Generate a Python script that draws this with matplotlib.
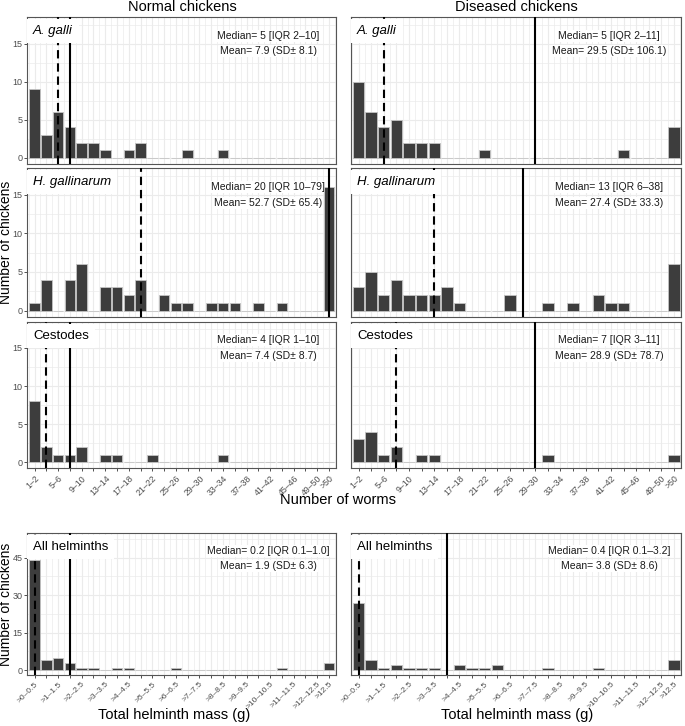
import math
import matplotlib
matplotlib.use("Agg")
import matplotlib.pyplot as plt
from matplotlib.ticker import FixedLocator

plt.rcParams['font.family'] = ['Liberation Sans', 'DejaVu Sans']
plt.rcParams['lines.scale_dashes'] = False

# ---------------- data ----------------
worm_labels = ["1–2", "3–4", "5–6", "7–8", "9–10", "11–12", "13–14", "15–16", "17–18",
               "19–20", "21–22", "23–24", "25–26", "27–28", "29–30", "31–32", "33–34",
               "35–36", "37–38", "39–40", "41–42", "43–44", "45–46", "47–48", "49–50", ">50"]
mass_labels = [">0–0.5", ">0.5–1", ">1–1.5", ">1.5–2", ">2–2.5", ">2.5–3", ">3–3.5",
               ">3.5–4", ">4–4.5", ">4.5–5", ">5–5.5", ">5.5–6", ">6–6.5", ">6.5–7",
               ">7–7.5", ">7.5–8", ">8–8.5", ">8.5–9", ">9–9.5", ">9.5–10", ">10–10.5",
               ">10.5–11", ">11–11.5", ">11.5–12", ">12–12.5", ">12.5"]

normal_agalli   = [9, 3, 6, 4, 2, 2, 1, 0, 1, 2, 0, 0, 0, 1, 0, 0, 1, 0, 0, 0, 0, 0, 0, 0, 0, 0]
diseased_agalli = [10, 6, 4, 5, 2, 2, 2, 0, 0, 0, 1, 0, 0, 0, 0, 0, 0, 0, 0, 0, 0, 1, 0, 0, 0, 4]
normal_hgall    = [1, 4, 0, 4, 6, 0, 3, 3, 2, 4, 0, 2, 1, 1, 0, 1, 1, 1, 0, 1, 0, 1, 0, 0, 0, 16]
diseased_hgall  = [3, 5, 2, 4, 2, 2, 2, 3, 1, 0, 0, 0, 2, 0, 0, 1, 0, 1, 0, 2, 1, 1, 0, 0, 0, 6]
normal_cest     = [8, 2, 1, 1, 2, 0, 1, 1, 0, 0, 1, 0, 0, 0, 0, 0, 1, 0, 0, 0, 0, 0, 0, 0, 0, 0]
diseased_cest   = [3, 4, 1, 2, 0, 1, 1, 0, 0, 0, 0, 0, 0, 0, 0, 1, 0, 0, 0, 0, 0, 0, 0, 0, 0, 1]
normal_mass     = [44, 4, 5, 3, 1, 1, 0, 1, 1, 0, 0, 0, 1, 0, 0, 0, 0, 0, 0, 0, 0, 1, 0, 0, 0, 3]
diseased_mass   = [27, 4, 1, 2, 1, 1, 1, 0, 2, 1, 1, 2, 0, 0, 0, 1, 0, 0, 0, 1, 0, 0, 0, 0, 0, 4]

# summary statistics: median, IQR low, IQR high, mean, SD
stats_normal_agalli   = ("5", "2", "10", "7.9", "8.1")
stats_diseased_agalli = ("5", "2", "11", "29.5", "106.1")
stats_normal_hgall    = ("20", "10", "79", "52.7", "65.4")
stats_diseased_hgall  = ("13", "6", "38", "27.4", "33.3")
stats_normal_cest     = ("4", "1", "10", "7.4", "8.7")
stats_diseased_cest   = ("7", "3", "11", "28.9", "78.7")
stats_normal_mass     = ("0.2", "0.1", "1.0", "1.9", "6.3")
stats_diseased_mass   = ("0.4", "0.1", "3.2", "3.8", "8.6")

# ---------------- styling ----------------
W, H = 685, 726
fig = plt.figure(figsize=(W / 100, H / 100), dpi=100)

BAR = '#3d3d3d'
BAR_EDGE = '#c4c4c4'
GRID = '#ebebeb'
TXT_AX = '#4d4d4d'
SPINE = '#555555'


def add_ax(left, top, right, bottom):
    return fig.add_axes([left / W, 1 - bottom / H, (right - left) / W, (bottom - top) / H])


def worm_bin(v):
    return min(math.ceil(float(v) / 2) - 1, 25)


def mass_bin(v):
    return min(math.ceil(float(v) / 0.5) - 1, 25)


def panel(ax, counts, labels, stats, binfn, ylim, yticks, ystep, facet, italic,
          show_y, show_x, xlab_size):
    x = list(range(len(counts)))
    ax.bar(x, counts, width=0.9, color=BAR, edgecolor=BAR_EDGE, linewidth=0.6, zorder=2)
    ax.set_xlim(-0.62, 25.55)
    ax.set_ylim(*ylim)
    # grid
    ax.xaxis.set_major_locator(FixedLocator(x))
    ax.xaxis.set_minor_locator(FixedLocator([i + 0.5 for i in range(-1, 26)]))
    ax.yaxis.set_major_locator(FixedLocator(yticks))
    ax.yaxis.set_minor_locator(FixedLocator([t + ystep / 2 for t in yticks]))
    ax.grid(True, which='major', color=GRID, lw=0.8, zorder=0)
    ax.grid(True, which='minor', color=GRID, lw=0.5, zorder=0)
    ax.set_axisbelow(True)
    ax.tick_params(which='minor', length=0)
    for s in ax.spines.values():
        s.set_color(SPINE)
        s.set_linewidth(0.8)
    # y axis
    if show_y:
        ax.set_yticklabels([str(t) for t in yticks])
        ax.tick_params(axis='y', which='major', length=2.5, width=0.6, color='#333333',
                       labelsize=6.5, labelcolor=TXT_AX, pad=0.8)
    else:
        ax.tick_params(axis='y', which='major', length=0, labelleft=False)
    # x axis
    if show_x:
        ax.set_xticklabels([lab if (i % 2 == 0 or i == len(labels) - 1) else ''
                            for i, lab in enumerate(labels)],
                           rotation=45, ha='right', va='top', rotation_mode='anchor')
        ax.tick_params(axis='x', which='major', length=2.5, width=0.6, color='#333333',
                       labelsize=xlab_size, labelcolor=TXT_AX, pad=1.5)
    else:
        ax.tick_params(axis='x', which='major', length=0, labelbottom=False)
    # median / mean lines
    med, q1, q3, mean, sd = stats
    ax.axvline(binfn(med), color='black', lw=1.5, linestyle=(0, (6, 3.5)), zorder=3)
    ax.axvline(binfn(mean), color='black', lw=1.5, zorder=3)
    # annotation
    ax.text(0.782, 0.875, f"Median= {med} [IQR {q1}–{q3}]", transform=ax.transAxes,
            ha='center', va='center', fontsize=7.5, color='#1a1a1a', zorder=1.5,
            bbox=dict(boxstyle='square,pad=0.1', fc='white', ec='none'))
    ax.text(0.782, 0.768, f"Mean= {mean} (SD± {sd})", transform=ax.transAxes,
            ha='center', va='center', fontsize=7.5, color='#1a1a1a', zorder=1.5,
            bbox=dict(boxstyle='square,pad=0.1', fc='white', ec='none'))
    # facet label
    ax.text(0.019, 0.905, facet, transform=ax.transAxes, ha='left', va='center',
            fontsize=9.5, fontstyle='italic' if italic else 'normal', color='black',
            zorder=5, bbox=dict(boxstyle='square,pad=0.45', fc='white', ec='none'))


cols = [(27.3, 335.5), (350.7, 681.0)]
rows = [(17.3, 164.0), (168.3, 316.7), (321.7, 468.3)]
mass_row = (533.3, 675.0)

worm_sets = [
    ("A. galli", True, normal_agalli, stats_normal_agalli, diseased_agalli, stats_diseased_agalli),
    ("H. gallinarum", True, normal_hgall, stats_normal_hgall, diseased_hgall, stats_diseased_hgall),
    ("Cestodes", False, normal_cest, stats_normal_cest, diseased_cest, stats_diseased_cest),
]

for r, (lab, ital, n_counts, n_stats, d_counts, d_stats) in enumerate(worm_sets):
    top, bot = rows[r]
    last = (r == len(worm_sets) - 1)
    axl = add_ax(cols[0][0], top, cols[0][1], bot)
    panel(axl, n_counts, worm_labels, n_stats, worm_bin, (-0.8, 18.45), [0, 5, 10, 15], 5,
          lab, ital, True, last, 6.3)
    axr = add_ax(cols[1][0], top, cols[1][1], bot)
    panel(axr, d_counts, worm_labels, d_stats, worm_bin, (-0.8, 18.45), [0, 5, 10, 15], 5,
          lab, ital, False, last, 6.3)

axml = add_ax(cols[0][0], mass_row[0], cols[0][1], mass_row[1])
panel(axml, normal_mass, mass_labels, stats_normal_mass, mass_bin, (-2.0, 54.7),
      [0, 15, 30, 45], 15, "All helminths", False, True, True, 6.0)
axmr = add_ax(cols[1][0], mass_row[0], cols[1][1], mass_row[1])
panel(axmr, diseased_mass, mass_labels, stats_diseased_mass, mass_bin, (-2.0, 54.7),
      [0, 15, 30, 45], 15, "All helminths", False, False, True, 6.0)

# titles and axis labels
fig.text(182.5 / W, 1 - 7 / H, "Normal chickens", ha='center', va='center', fontsize=10.5)
fig.text(516.5 / W, 1 - 7 / H, "Diseased chickens", ha='center', va='center', fontsize=10.5)
fig.text(6.0 / W, 1 - 242.7 / H, "Number of chickens", rotation=90, ha='center', va='center',
         fontsize=10)
fig.text(6.0 / W, 1 - 604 / H, "Number of chickens", rotation=90, ha='center', va='center',
         fontsize=10)
fig.text(337.5 / W, 1 - 500 / H, "Number of worms", ha='center', va='center', fontsize=10.5)
fig.text(174 / W, 1 - 715 / H, "Total helminth mass (g)", ha='center', va='center', fontsize=10.5)
fig.text(516.7 / W, 1 - 715 / H, "Total helminth mass (g)", ha='center', va='center', fontsize=10.5)

fig.savefig("out.png", dpi=100, facecolor='white')
